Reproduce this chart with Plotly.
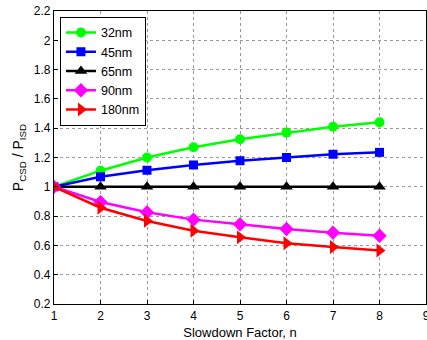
import plotly.graph_objects as go

x = [1, 2, 3, 4, 5, 6, 7, 8]
names = ["32nm", "45nm", "65nm", "90nm", "180nm"]
y32 = [1.0, 1.11, 1.20, 1.27, 1.325, 1.37, 1.41, 1.44]
y45 = [1.0, 1.068, 1.113, 1.149, 1.178, 1.20, 1.222, 1.235]
y65 = [1.0, 1.0, 1.0, 1.0, 1.0, 1.0, 1.0, 1.0]
y90 = [1.0, 0.896, 0.826, 0.776, 0.744, 0.712, 0.687, 0.666]
y180 = [1.0, 0.857, 0.767, 0.70, 0.655, 0.615, 0.589, 0.565]

series = [y32, y45, y65, y90, y180]
colors = ["#00ff00", "#0000ff", "#000000", "#ff00ff", "#ff0000"]
symbols = ["circle", "square", "triangle-up", "diamond", "triangle-right"]
sizes = [10, 9, 11, 11, 12]

fig = go.Figure()
for n, ys, c, s, sz in zip(names, series, colors, symbols, sizes):
    fig.add_trace(go.Scatter(x=x, y=ys, name=n, mode="lines+markers",
                             line=dict(color=c, width=2.5),
                             marker=dict(symbol=s, size=sz, color=c)))

axis_common = dict(showline=True, linecolor="black", linewidth=1.2, mirror=True,
                   ticks="inside", ticklen=4, tickcolor="black",
                   showgrid=True, gridcolor="#999999", griddash="dot", gridwidth=1,
                   zeroline=False, ticklabeloverflow="allow", automargin=False,
                   tickfont=dict(family="Liberation Sans, Arial", size=12, color="black"))

fig.update_layout(
    width=427, height=340,
    margin=dict(l=54, r=1, t=11, b=36),
    paper_bgcolor="white", plot_bgcolor="white",
    font=dict(family="Liberation Sans, Arial", size=12, color="black"),
    showlegend=True,
    legend=dict(x=0.016, y=0.98, xanchor="left", yanchor="top",
                bgcolor="white", bordercolor="black", borderwidth=1,
                font=dict(size=12.5), tracegroupgap=0, itemwidth=30),
    xaxis=dict(range=[1, 9], dtick=1,
               title=dict(text="Slowdown Factor, n", standoff=6, font=dict(size=13)),
               **axis_common),
    yaxis=dict(range=[0.2, 2.2], dtick=0.2, tickformat="~g",
               title=dict(text="P<sub>CSD</sub> / P<sub>ISD</sub>", standoff=6, font=dict(size=14)),
               **axis_common),
)

fig.write_html("out.html")
